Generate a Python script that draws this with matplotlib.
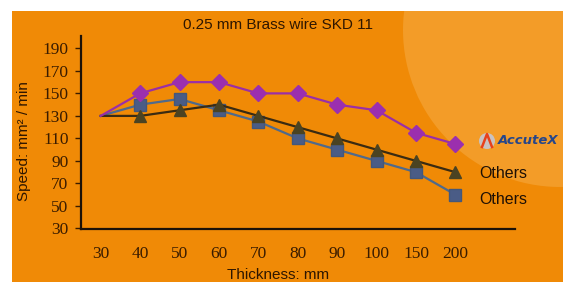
import matplotlib
matplotlib.use("Agg")
import matplotlib.pyplot as plt
from matplotlib.patches import Rectangle, Ellipse

# data
thickness = ["30", "40", "50", "60", "70", "80", "90", "100", "150", "200"]
accutex = [130, 150, 160, 160, 150, 150, 140, 135, 115, 105]
others_tri = [130, 130, 135, 140, 130, 120, 110, 100, 90, 80]
others_sq = [130, 140, 145, 135, 125, 110, 100, 90, 80, 60]
yticks = [30, 50, 70, 90, 110, 130, 150, 170, 190]

W, H = 563, 282
fig = plt.figure(figsize=(W / 100, H / 100), dpi=100)
fig.patch.set_facecolor("white")

# orange panel with the lighter circle in the corner
bg = Rectangle((12 / W, 0), 1, 1 - 11 / H, transform=fig.transFigure,
               facecolor="#F08A06", edgecolor="none", zorder=-10)
fig.patches.append(bg)
glow = Ellipse((560 / W, 1 - 30 / H), 2 * 157 / W, 2 * 157 / H,
               transform=fig.transFigure, facecolor="#F39C28",
               edgecolor="none", zorder=-9)
glow.set_clip_path(bg)
fig.patches.append(glow)

ax = fig.add_axes([81 / W, 1 - 229 / H, 433.5 / W, 193 / H])
ax.patch.set_alpha(0)

x = list(range(len(thickness)))
marks = list(range(1, len(thickness)))
ax.plot(x, others_sq, color="#4f6a8c", lw=1.6, marker="s", ms=9,
        mfc="#4a5c86", mec="#44577a", markevery=marks, zorder=3)
ax.plot(x, others_tri, color="#3a2b12", lw=1.6, marker="^", ms=9,
        mfc="#4b4322", mec="#4b4322", markevery=marks, zorder=4)
ax.plot(x, accutex, color="#9a2fa6", lw=1.6, marker="D", ms=8,
        mfc="#9b2fae", mec="#9b2fae", markevery=marks, zorder=5)

ax.set_xlim(-0.5, 10.5)
ax.set_ylim(29.5, 201)
ax.set_xticks(x)
ax.set_xticklabels(thickness)
ax.set_yticks(yticks)

for s in ["top", "right"]:
    ax.spines[s].set_visible(False)
for s in ["left", "bottom"]:
    ax.spines[s].set_color("#1c1208")
    ax.spines[s].set_linewidth(1.6)

for lab in ax.get_xticklabels() + ax.get_yticklabels():
    lab.set_fontfamily("Liberation Serif")
    lab.set_fontsize(12.5)
    lab.set_color("#3a1c00")
ax.tick_params(axis="x", length=0, pad=12)
ax.tick_params(axis="y", length=4, width=1, color="#3a1c00", pad=5)

txt = "#2e1600"
fig.text(278 / W, 1 - 25 / H, "0.25 mm Brass wire SKD 11", ha="center",
         va="center", fontsize=11, family="Liberation Sans", color=txt)
fig.text(24 / W, 1 - 141 / H, "Speed: mm² / min", rotation=90, ha="center",
         va="center", fontsize=11, family="Liberation Sans", color=txt)
fig.text(278 / W, 3 / H, "Thickness: mm", ha="center", va="baseline",
         fontsize=11, family="Liberation Sans", color=txt)

# legend-like labels on the right
fig.text(479 / W, 1 - 174 / H, "Others", ha="left", va="center",
         fontsize=11.5, family="Liberation Sans", color="#1e1005")
fig.text(479 / W, 1 - 199 / H, "Others", ha="left", va="center",
         fontsize=11.5, family="Liberation Sans", color="#1e1005")
fig.text(498 / W, 1 - 141 / H, "AccuteX", ha="left", va="center",
         fontsize=9.5, family="DejaVu Sans", weight="bold", style="italic",
         color="#26468a")
logo = Ellipse((487 / W, 1 - 141 / H), 16 / W, 16 / H,
               transform=fig.transFigure, facecolor="#c9c2c0",
               edgecolor="none", zorder=2)
fig.patches.append(logo)
fig.lines.append(plt.Line2D([482 / W, 487 / W, 492 / W],
                            [1 - 147 / H, 1 - 134 / H, 1 - 147 / H],
                            transform=fig.transFigure, color="#e8401a",
                            lw=1.8, zorder=3))

fig.savefig("out.png", dpi=100)
